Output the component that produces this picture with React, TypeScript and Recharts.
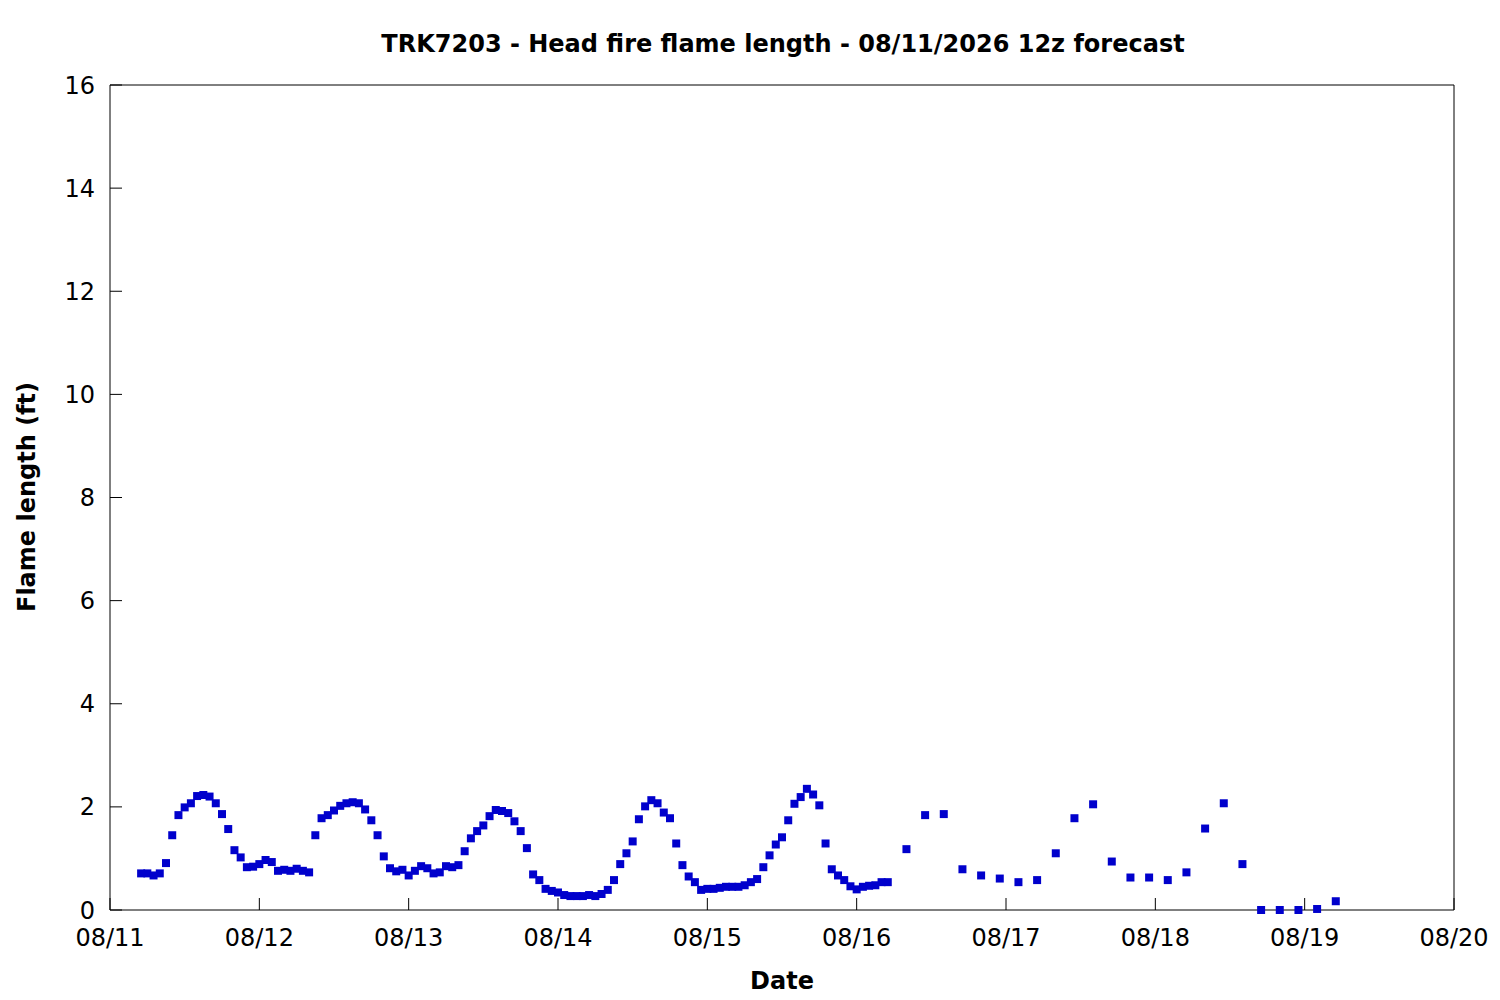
import React from 'react';
import { ScatterChart, Scatter, XAxis, YAxis, ZAxis } from 'recharts';

// forecast run starts 08/11 00z on the axis; x is measured in hours from then
const dayLabels = ['08/11', '08/12', '08/13', '08/14', '08/15', '08/16', '08/17', '08/18', '08/19', '08/20'];
const yTicks = [0, 2, 4, 6, 8, 10, 12, 14, 16];

// hourly output, hours 5..125
const hourlyStart = 5;
const hourlyFlame = [
  0.71, 0.71, 0.67, 0.71, 0.91, 1.45, 1.84, 1.99, 2.07, 2.21, 2.23, 2.2,
  2.07, 1.86, 1.57, 1.16, 1.02, 0.83, 0.84, 0.89, 0.97, 0.93, 0.76, 0.78,
  0.76, 0.8, 0.76, 0.73, 1.45, 1.78, 1.84, 1.93, 2.02, 2.07, 2.09, 2.07,
  1.95, 1.74, 1.45, 1.04, 0.81, 0.75, 0.78, 0.67, 0.76, 0.85, 0.81, 0.71,
  0.73, 0.85, 0.83, 0.87, 1.14, 1.39, 1.53, 1.64, 1.82, 1.94, 1.92, 1.88,
  1.72, 1.53, 1.2, 0.69, 0.58, 0.41, 0.37, 0.34, 0.29, 0.27, 0.27, 0.27,
  0.29, 0.27, 0.31, 0.39, 0.58, 0.89, 1.1, 1.33, 1.76, 2.01, 2.13, 2.07,
  1.89, 1.78, 1.29, 0.87, 0.65, 0.54, 0.39, 0.41, 0.41, 0.43, 0.45, 0.45,
  0.45, 0.48, 0.54, 0.6, 0.83, 1.06, 1.27, 1.41, 1.74, 2.06, 2.19, 2.35,
  2.24, 2.03, 1.29, 0.79, 0.67, 0.58, 0.46, 0.4, 0.45, 0.47, 0.48, 0.54,
  0.54,
];

// 3-hourly output, hours 128..197
const threeHourlyStart = 128;
const threeHourlyFlame = [
  1.18, 1.84, 1.86, 0.79, 0.67, 0.61, 0.54, 0.58, 1.1, 1.78, 2.05, 0.94,
  0.63, 0.63, 0.58, 0.73, 1.58, 2.07, 0.89, 0.0, 0.0, 0.0, 0.02, 0.17,
];

const points = [
  ...hourlyFlame.map((v, i) => ({ day: (hourlyStart + i) / 24, flame: v })),
  ...threeHourlyFlame.map((v, i) => ({ day: (threeHourlyStart + i * 3) / 24, flame: v })),
];

const FONT = 'DejaVu Sans';
const TICK_LEN = 12;
const dayTicks = dayLabels.map((_, i) => i);

// gnuplot style: tick marks point into the plot, labels outside
const BottomTick = ({ x, y, payload }: any) => (
  <g>
    <line x1={x} y1={y} x2={x} y2={y - TICK_LEN} stroke="#000" />
    <text x={x} y={y + 36} textAnchor="middle" fontFamily={FONT} fontSize={24} fill="#000">
      {dayLabels[payload.value]}
    </text>
  </g>
);

const TopTick = ({ x, y }: any) => <line x1={x} y1={y} x2={x} y2={y + TICK_LEN} stroke="#000" />;

const LeftTick = ({ x, y, payload }: any) => (
  <g>
    <line x1={x} y1={y} x2={x + TICK_LEN} y2={y} stroke="#000" />
    <text x={x - 15} y={y + 8.5} textAnchor="end" fontFamily={FONT} fontSize={24} fill="#000">
      {payload.value}
    </text>
  </g>
);

const RightTick = ({ x, y }: any) => <line x1={x} y1={y} x2={x - TICK_LEN} y2={y} stroke="#000" />;

export default function App() {
  const lineStyle = { stroke: '#000', strokeWidth: 1 };

  return (
    <div style={{ position: 'absolute', left: 0, top: 0, width: 1500, height: 1000, background: '#fff' }}>
      <ScatterChart width={1500} height={1000} margin={{ top: 84, right: 45, bottom: 60, left: 50 }}>
        <XAxis
          xAxisId="bottom"
          type="number"
          dataKey="day"
          domain={[0, 9]}
          ticks={dayTicks}
          interval={0}
          tick={BottomTick}
          tickLine={false}
          tickSize={0}
          tickMargin={0}
          height={30}
          axisLine={lineStyle}
        />
        <XAxis
          xAxisId="top"
          orientation="top"
          type="number"
          domain={[0, 9]}
          ticks={dayTicks}
          interval={0}
          tick={TopTick}
          tickLine={false}
          tickSize={0}
          tickMargin={0}
          height={1}
          axisLine={lineStyle}
        />
        <YAxis
          yAxisId="left"
          type="number"
          dataKey="flame"
          domain={[0, 16]}
          ticks={yTicks}
          interval={0}
          tick={LeftTick}
          tickLine={false}
          tickSize={0}
          tickMargin={0}
          width={60}
          axisLine={lineStyle}
        />
        <YAxis
          yAxisId="right"
          orientation="right"
          type="number"
          domain={[0, 16]}
          ticks={yTicks}
          interval={0}
          tick={RightTick}
          tickLine={false}
          tickSize={0}
          tickMargin={0}
          width={1}
          axisLine={lineStyle}
        />
        <ZAxis range={[72, 72]} />
        <Scatter
          xAxisId="bottom"
          yAxisId="left"
          data={points}
          shape="square"
          fill="#0000cc"
          isAnimationActive={false}
        />
      </ScatterChart>

      <div
        style={{
          position: 'absolute', left: 0, width: 1566, top: 28, textAlign: 'center',
          fontFamily: FONT, fontWeight: 'bold', fontSize: 24, lineHeight: '32px', color: '#000',
        }}
      >
        TRK7203 - Head fire flame length - 08/11/2026 12z forecast
      </div>
      <div
        style={{
          position: 'absolute', left: 0, width: 1564, top: 965, textAlign: 'center',
          fontFamily: FONT, fontWeight: 'bold', fontSize: 24, lineHeight: '32px', color: '#000',
        }}
      >
        Date
      </div>
      <div
        style={{
          position: 'absolute', left: 27, top: 497, transform: 'translate(-50%, -50%) rotate(-90deg)',
          whiteSpace: 'nowrap', fontFamily: FONT, fontWeight: 'bold', fontSize: 24, lineHeight: '32px', color: '#000',
        }}
      >
        Flame length (ft)
      </div>
    </div>
  );
}
